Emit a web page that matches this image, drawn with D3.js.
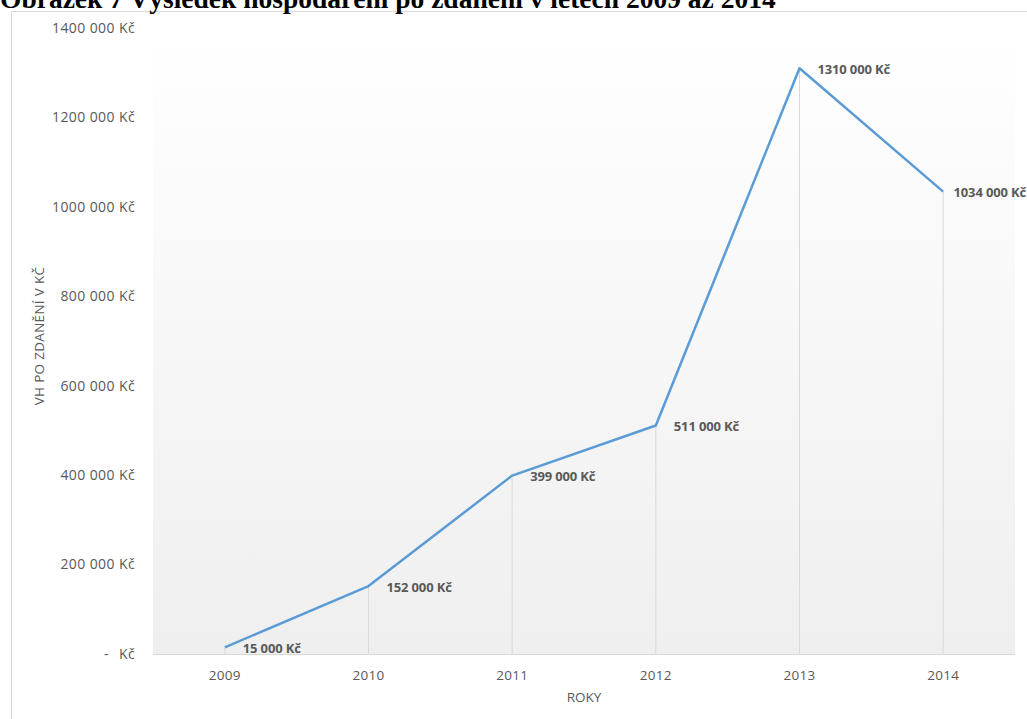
<!DOCTYPE html>
<html>
<head>
<meta charset="utf-8">
<script src="https://cdn.jsdelivr.net/npm/d3@7"></script>
<style>
  html, body { margin: 0; padding: 0; background: #fff; }
  svg { display: block; }
</style>
</head>
<body>
<svg id="chart" width="1027" height="719"></svg>
<script>
// Profit after tax by year
const years = ["2009", "2010", "2011", "2012", "2013", "2014"];
const profit = [15000, 152000, 399000, 511000, 1310000, 1034000];
const yTicks = [0, 200000, 400000, 600000, 800000, 1000000, 1200000, 1400000];

const svg = d3.select("#chart");
const W = 1027, H = 719;
const plot = { left: 153, right: 1015, top: 28, bottom: 654 };

// Czech style number: thousands separated by space, millions kept together
function fmtKc(v) {
  if (v === 0) return null;
  const s = String(v);
  const head = s.slice(0, s.length - 3);
  const tail = s.slice(-3);
  return head + " " + tail + " Kč";
}

// Chart frame
svg.append("rect")
  .attr("x", 11.5).attr("y", 11.5)
  .attr("width", W + 20).attr("height", H + 20)
  .attr("fill", "#fff")
  .attr("stroke", "#d9d9d9").attr("stroke-width", 1);

// Caption above the chart frame
svg.append("text")
  .attr("x", 0).attr("y", 8)
  .attr("font-family", "Liberation Serif, Times New Roman, serif")
  .attr("font-weight", "bold")
  .attr("font-size", 27.5)
  .attr("fill", "#000")
  .text("Obrázek 7 Výsledek hospodaření po zdanění v letech 2009 až 2014");

// Plot background gradient
const defs = svg.append("defs");
const grad = defs.append("linearGradient")
  .attr("id", "bg").attr("x1", 0).attr("y1", 0).attr("x2", 0).attr("y2", 1);
grad.append("stop").attr("offset", "0%").attr("stop-color", "#ffffff");
grad.append("stop").attr("offset", "100%").attr("stop-color", "#efefef");

const x = d3.scaleBand().domain(years).range([plot.left, plot.right]).padding(0);
const y = d3.scaleLinear().domain([0, 1400000]).range([plot.bottom, plot.top]);

svg.append("rect")
  .attr("x", plot.left).attr("y", plot.top)
  .attr("width", plot.right - plot.left).attr("height", plot.bottom - plot.top)
  .attr("fill", "url(#bg)");

const cx = d => x(d) + x.bandwidth() / 2;
const pts = years.map((yr, i) => ({ yr, v: profit[i] }));

// Drop lines from each point to the category axis
svg.append("g").selectAll("line")
  .data(pts).join("line")
  .attr("x1", d => cx(d.yr)).attr("x2", d => cx(d.yr))
  .attr("y1", d => y(d.v)).attr("y2", plot.bottom)
  .attr("stroke", "#d9d9d9").attr("stroke-width", 1);

// Category axis line
svg.append("line")
  .attr("x1", plot.left).attr("x2", plot.right)
  .attr("y1", plot.bottom + 0.5).attr("y2", plot.bottom + 0.5)
  .attr("stroke", "#d9d9d9").attr("stroke-width", 1);

const font = "Open Sans, Noto Sans, sans-serif";
const fs = 13.5;

// Y tick labels
const yAxis = svg.append("g").attr("class", "y-axis");
yAxis.selectAll("text")
  .data(yTicks.filter(t => t !== 0)).join("text")
  .attr("x", 135).attr("y", d => y(d))
  .attr("dy", "0.35em")
  .attr("text-anchor", "end")
  .attr("font-family", font).attr("font-size", 14)
  .attr("letter-spacing", "0.4")
  .attr("fill", "#595959")
  .text(d => fmtKc(d));
// zero label in accounting style
yAxis.append("text")
  .attr("x", 104).attr("y", y(0)).attr("dy", "0.35em")
  .attr("font-family", font).attr("font-size", 14).attr("fill", "#595959")
  .text("-");
yAxis.append("text")
  .attr("x", 135).attr("y", y(0)).attr("dy", "0.35em")
  .attr("text-anchor", "end")
  .attr("font-family", font).attr("font-size", 14)
  .attr("letter-spacing", "0.4").attr("fill", "#595959")
  .text("Kč");

// X tick labels
svg.append("g").selectAll("text")
  .data(years).join("text")
  .attr("x", d => cx(d)).attr("y", 675).attr("dy", "0.35em")
  .attr("text-anchor", "middle")
  .attr("font-family", font).attr("font-size", fs)
  .attr("letter-spacing", "0.3")
  .attr("fill", "#595959")
  .text(d => d);

// Axis titles
svg.append("text")
  .attr("x", (plot.left + plot.right) / 2).attr("y", 697).attr("dy", "0.35em")
  .attr("text-anchor", "middle")
  .attr("font-family", font).attr("font-size", fs)
  .attr("fill", "#595959")
  .text("ROKY");

svg.append("text")
  .attr("transform", `translate(39,${(plot.top + plot.bottom) / 2 - 5}) rotate(-90)`)
  .attr("dy", "0.35em")
  .attr("text-anchor", "middle")
  .attr("font-family", font).attr("font-size", fs)
  .attr("letter-spacing", "0.3")
  .attr("fill", "#595959")
  .text("VH PO ZDANĚNÍ V KČ");

// Series line
const line = d3.line().x(d => cx(d.yr)).y(d => y(d.v));
svg.append("path")
  .datum(pts)
  .attr("d", line)
  .attr("fill", "none")
  .attr("stroke", "#5b9bd5")
  .attr("stroke-width", 2.5)
  .attr("stroke-linejoin", "round");

// Data labels, kept inside the right edge of the picture
const labelRight = 1026;
svg.append("g").selectAll("text")
  .data(pts).join("text")
  .attr("y", d => y(d.v) + 1).attr("dy", "0.35em")
  .attr("font-family", font).attr("font-size", 13).attr("font-weight", "bold")
  .attr("letter-spacing", "-0.15")
  .attr("fill", "#595959")
  .text(d => fmtKc(d.v))
  .each(function(d) {
    const w = this.getComputedTextLength();
    const lx = Math.min(cx(d.yr) + 18, labelRight - w);
    d3.select(this).attr("x", lx);
  });
</script>
</body>
</html>
